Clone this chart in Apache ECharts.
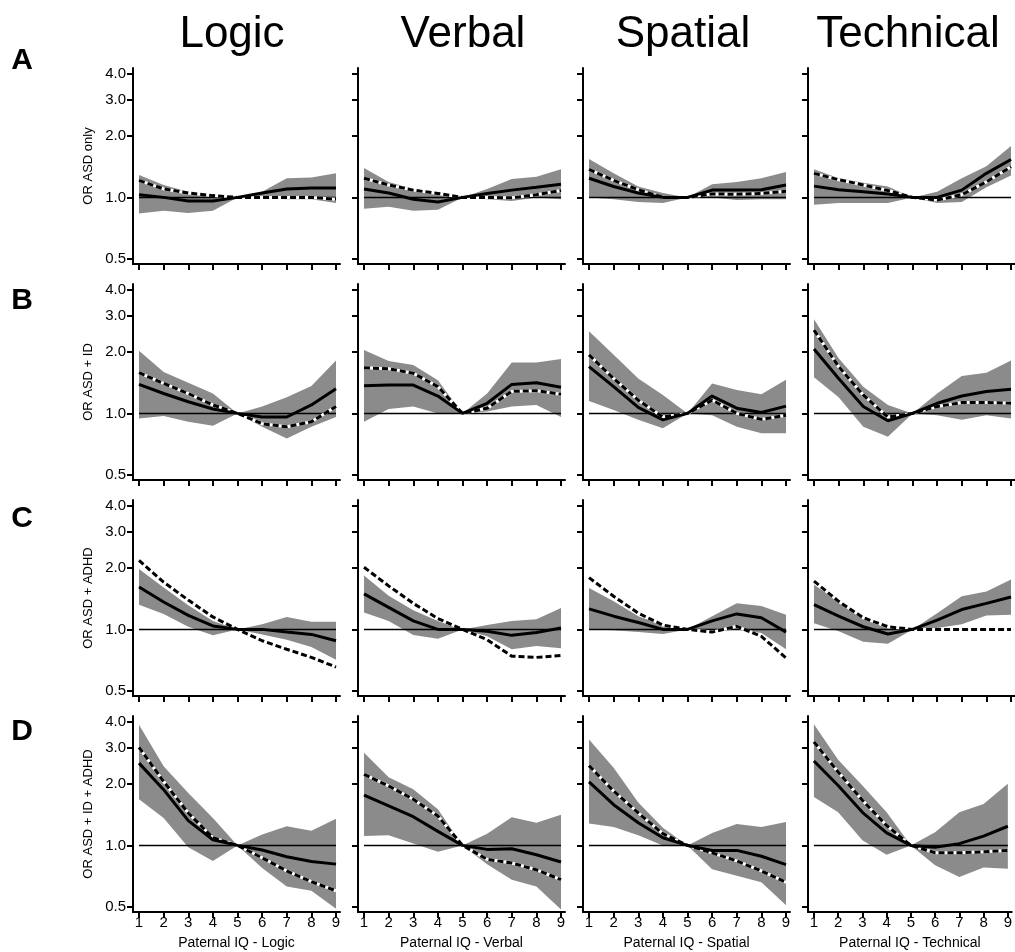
<!DOCTYPE html>
<html>
<head>
<meta charset="utf-8">
<script src="https://cdn.jsdelivr.net/npm/echarts@6/dist/echarts.min.js"></script>
<style>
html,body{margin:0;padding:0;background:#fff;}
#chart{width:1015px;height:952px;}
</style>
</head>
<body>
<div id="chart"></div>
<script>
// ---- categories / labels ----
const domains = ['Logic', 'Verbal', 'Spatial', 'Technical'];
const outcomes = ['OR ASD only', 'OR ASD + ID', 'OR ASD + ADHD', 'OR ASD + ID + ADHD'];
const rowLetters = ['A', 'B', 'C', 'D'];
const xValues = [1, 2, 3, 4, 5, 6, 7, 8, 9];
const yTickValues = [0.5, 1, 2, 3, 4];
const xAxisTitles = ['Paternal IQ - Logic', 'Paternal IQ - Verbal', 'Paternal IQ - Spatial', 'Paternal IQ - Technical'];

// ---- Row A: ASD only ----
const A_Logic_solid  = [1.03, 1.00, 0.96, 0.96, 1, 1.05, 1.10, 1.11, 1.11];
const A_Logic_dashed = [1.21, 1.10, 1.05, 1.02, 1, 1.00, 1.00, 1.00, 0.98];
const A_Logic_low    = [0.835, 0.86, 0.84, 0.86, 1, 0.99, 0.98, 0.98, 0.94];
const A_Logic_high   = [1.285, 1.15, 1.066, 1.026, 1, 1.066, 1.24, 1.25, 1.31];

const A_Verbal_solid  = [1.10, 1.05, 0.98, 0.95, 1, 1.045, 1.085, 1.12, 1.16];
const A_Verbal_dashed = [1.24, 1.15, 1.085, 1.045, 1, 1.00, 0.995, 1.03, 1.08];
const A_Verbal_low    = [0.88, 0.90, 0.86, 0.87, 1, 0.98, 0.96, 1.00, 0.98];
const A_Verbal_high   = [1.39, 1.19, 1.10, 1.05, 1, 1.10, 1.23, 1.26, 1.37];

const A_Spatial_solid  = [1.24, 1.13, 1.05, 1.00, 1, 1.085, 1.085, 1.09, 1.15];
const A_Spatial_dashed = [1.37, 1.21, 1.09, 1.00, 1, 1.04, 1.035, 1.045, 1.07];
const A_Spatial_low    = [1.00, 0.98, 0.95, 0.94, 1, 1.00, 0.97, 0.98, 0.98];
const A_Spatial_high   = [1.54, 1.31, 1.13, 1.05, 1, 1.16, 1.19, 1.24, 1.33];

const A_Technical_solid  = [1.135, 1.09, 1.066, 1.04, 1, 1.00, 1.085, 1.31, 1.53];
const A_Technical_dashed = [1.31, 1.22, 1.15, 1.08, 1, 0.97, 1.03, 1.19, 1.41];
const A_Technical_low    = [0.92, 0.94, 0.94, 0.94, 1, 0.94, 0.95, 1.12, 1.28];
const A_Technical_high   = [1.37, 1.24, 1.18, 1.13, 1, 1.066, 1.24, 1.42, 1.78];

// ---- Row B: ASD + ID ----
const B_Logic_solid  = [1.385, 1.25, 1.14, 1.05, 1, 0.96, 0.96, 1.10, 1.32];
const B_Logic_dashed = [1.58, 1.40, 1.25, 1.10, 1, 0.89, 0.86, 0.91, 1.08];
const B_Logic_low    = [0.945, 0.97, 0.91, 0.87, 1, 0.86, 0.755, 0.86, 0.96];
const B_Logic_high   = [2.02, 1.59, 1.41, 1.25, 1, 1.08, 1.20, 1.36, 1.81];

const B_Verbal_solid  = [1.365, 1.375, 1.375, 1.215, 1, 1.12, 1.385, 1.41, 1.34];
const B_Verbal_dashed = [1.67, 1.65, 1.57, 1.35, 1, 1.06, 1.28, 1.29, 1.24];
const B_Verbal_low    = [0.91, 1.05, 1.08, 1.00, 1, 1.02, 1.08, 1.10, 0.96];
const B_Verbal_high   = [2.04, 1.80, 1.72, 1.45, 1, 1.25, 1.77, 1.77, 1.84];

const B_Spatial_solid  = [1.69, 1.35, 1.07, 0.93, 1, 1.215, 1.06, 1.01, 1.085];
const B_Spatial_dashed = [1.93, 1.48, 1.16, 0.96, 1, 1.16, 1.00, 0.935, 0.98];
const B_Spatial_low    = [1.15, 1.04, 0.93, 0.845, 1, 0.98, 0.86, 0.80, 0.80];
const B_Spatial_high   = [2.52, 1.93, 1.48, 1.23, 1, 1.40, 1.30, 1.24, 1.46];

const B_Technical_solid  = [2.06, 1.48, 1.08, 0.92, 1, 1.12, 1.215, 1.28, 1.31];
const B_Technical_dashed = [2.55, 1.69, 1.23, 0.96, 1, 1.08, 1.13, 1.13, 1.12];
const B_Technical_low    = [1.50, 1.20, 0.86, 0.77, 1, 0.98, 0.93, 0.98, 0.945];
const B_Technical_high   = [2.88, 1.86, 1.35, 1.10, 1, 1.25, 1.52, 1.58, 1.81];

// ---- Row C: ASD + ADHD ----
const C_Logic_solid  = [1.61, 1.36, 1.17, 1.04, 1, 1.00, 0.97, 0.945, 0.88];
const C_Logic_dashed = [2.17, 1.70, 1.39, 1.15, 1, 0.88, 0.80, 0.73, 0.655];
const C_Logic_low    = [1.32, 1.19, 1.03, 0.935, 1, 0.945, 0.89, 0.82, 0.71];
const C_Logic_high   = [1.97, 1.60, 1.31, 1.10, 1, 1.06, 1.15, 1.09, 1.09];

const C_Verbal_solid  = [1.49, 1.28, 1.10, 1.00, 1, 0.98, 0.935, 0.965, 1.015];
const C_Verbal_dashed = [2.01, 1.63, 1.34, 1.13, 1, 0.89, 0.74, 0.73, 0.745];
const C_Verbal_low    = [1.21, 1.10, 0.94, 0.90, 1, 0.925, 0.80, 0.83, 0.81];
const C_Verbal_high   = [1.83, 1.46, 1.24, 1.10, 1, 1.05, 1.10, 1.12, 1.27];

const C_Spatial_solid  = [1.26, 1.16, 1.08, 1.00, 1, 1.10, 1.19, 1.14, 0.97];
const C_Spatial_dashed = [1.79, 1.45, 1.20, 1.05, 1, 0.97, 1.035, 0.925, 0.725];
const C_Spatial_low    = [1.00, 0.99, 0.97, 0.95, 1, 0.97, 1.00, 0.96, 0.80];
const C_Spatial_high   = [1.59, 1.37, 1.16, 1.05, 1, 1.16, 1.34, 1.30, 1.18];

const C_Technical_solid  = [1.32, 1.16, 1.03, 0.95, 1, 1.11, 1.25, 1.34, 1.44];
const C_Technical_dashed = [1.72, 1.37, 1.14, 1.03, 1, 1.00, 1.00, 1.00, 1.00];
const C_Technical_low    = [1.07, 0.98, 0.87, 0.85, 1, 1.015, 1.06, 1.17, 1.18];
const C_Technical_high   = [1.65, 1.37, 1.16, 1.03, 1, 1.20, 1.45, 1.53, 1.75];

// ---- Row D: ASD + ID + ADHD ----
const D_Logic_solid  = [2.52, 1.87, 1.32, 1.066, 1, 0.95, 0.88, 0.835, 0.81];
const D_Logic_dashed = [3.01, 2.05, 1.44, 1.09, 1, 0.87, 0.75, 0.665, 0.60];
const D_Logic_low    = [1.68, 1.36, 0.98, 0.84, 1, 0.775, 0.63, 0.60, 0.49];
const D_Logic_high   = [3.88, 2.43, 1.80, 1.36, 1, 1.13, 1.24, 1.18, 1.35];

const D_Verbal_solid  = [1.76, 1.56, 1.38, 1.17, 1, 0.956, 0.963, 0.90, 0.83];
const D_Verbal_dashed = [2.22, 1.95, 1.68, 1.39, 1, 0.855, 0.82, 0.76, 0.68];
const D_Verbal_low    = [1.11, 1.12, 1.02, 0.93, 1, 0.81, 0.68, 0.63, 0.487];
const D_Verbal_high   = [2.83, 2.15, 1.88, 1.50, 1, 1.14, 1.37, 1.29, 1.41];

const D_Spatial_solid  = [2.04, 1.58, 1.29, 1.09, 1, 0.945, 0.945, 0.885, 0.805];
const D_Spatial_dashed = [2.45, 1.84, 1.44, 1.14, 1, 0.92, 0.84, 0.75, 0.66];
const D_Spatial_low    = [1.28, 1.23, 1.12, 1.00, 1, 0.765, 0.71, 0.66, 0.51];
const D_Spatial_high   = [3.29, 2.39, 1.62, 1.22, 1, 1.15, 1.27, 1.23, 1.30];

const D_Technical_solid  = [2.58, 1.96, 1.45, 1.15, 1, 0.98, 1.02, 1.11, 1.24];
const D_Technical_dashed = [3.20, 2.28, 1.66, 1.25, 1, 0.92, 0.92, 0.93, 0.945];
const D_Technical_low    = [1.72, 1.45, 1.06, 0.90, 1, 0.80, 0.70, 0.78, 0.77];
const D_Technical_high   = [3.90, 2.62, 1.96, 1.45, 1, 1.16, 1.45, 1.59, 2.00];

const panelData = {
  A_Logic: [A_Logic_solid, A_Logic_dashed, A_Logic_low, A_Logic_high],
  A_Verbal: [A_Verbal_solid, A_Verbal_dashed, A_Verbal_low, A_Verbal_high],
  A_Spatial: [A_Spatial_solid, A_Spatial_dashed, A_Spatial_low, A_Spatial_high],
  A_Technical: [A_Technical_solid, A_Technical_dashed, A_Technical_low, A_Technical_high],
  B_Logic: [B_Logic_solid, B_Logic_dashed, B_Logic_low, B_Logic_high],
  B_Verbal: [B_Verbal_solid, B_Verbal_dashed, B_Verbal_low, B_Verbal_high],
  B_Spatial: [B_Spatial_solid, B_Spatial_dashed, B_Spatial_low, B_Spatial_high],
  B_Technical: [B_Technical_solid, B_Technical_dashed, B_Technical_low, B_Technical_high],
  C_Logic: [C_Logic_solid, C_Logic_dashed, C_Logic_low, C_Logic_high],
  C_Verbal: [C_Verbal_solid, C_Verbal_dashed, C_Verbal_low, C_Verbal_high],
  C_Spatial: [C_Spatial_solid, C_Spatial_dashed, C_Spatial_low, C_Spatial_high],
  C_Technical: [C_Technical_solid, C_Technical_dashed, C_Technical_low, C_Technical_high],
  D_Logic: [D_Logic_solid, D_Logic_dashed, D_Logic_low, D_Logic_high],
  D_Verbal: [D_Verbal_solid, D_Verbal_dashed, D_Verbal_low, D_Verbal_high],
  D_Spatial: [D_Spatial_solid, D_Spatial_dashed, D_Spatial_low, D_Spatial_high],
  D_Technical: [D_Technical_solid, D_Technical_dashed, D_Technical_low, D_Technical_high]
};

// ---- layout ----
const FONT = '"Liberation Sans", Arial, Helvetica, sans-serif';
const colLeft = [133, 358, 583, 808];
const rowTop = [68, 284, 500, 716];
const gridW = 207, gridH = 196;
const X_MIN = 0.756, X_MAX = 9.162;
const Y_MIN = 0.473, Y_MAX = 4.28;

const grids = [], xAxes = [], yAxes = [], series = [], graphics = [];

rowLetters.forEach((rl, r) => {
  domains.forEach((dom, c) => {
    const gi = r * 4 + c;
    const [solid, dashed, low, high] = panelData[rl + '_' + dom];
    grids.push({ left: colLeft[c], top: rowTop[r], width: gridW, height: gridH, containLabel: false });
    const last = r === 3;
    xAxes.push({
      type: 'value', gridIndex: gi, min: X_MIN, max: X_MAX,
      axisLine: { show: true, onZero: false, lineStyle: { color: '#000', width: 2 } },
      axisTick: { show: true, inside: false, length: 6, lineStyle: { color: '#000', width: 2 }, customValues: xValues },
      axisLabel: { show: last, customValues: xValues, margin: 3, color: '#000', fontSize: 15, fontFamily: FONT },
      splitLine: { show: false },
      name: last ? xAxisTitles[c] : '', nameLocation: 'middle', nameGap: 24,
      nameTextStyle: { color: '#000', fontSize: 14, fontFamily: FONT }
    });
    yAxes.push({
      type: 'log', gridIndex: gi, min: Y_MIN, max: Y_MAX, logBase: 2,
      axisLine: { show: true, lineStyle: { color: '#000', width: 2 } },
      axisTick: { show: true, inside: false, length: 6, lineStyle: { color: '#000', width: 2 }, customValues: yTickValues },
      axisLabel: { show: c === 0, customValues: yTickValues, margin: 7, color: '#000', fontSize: 15, fontFamily: FONT,
                   formatter: v => Number(v).toFixed(1) },
      splitLine: { show: false },
      name: c === 0 ? outcomes[r] : '', nameLocation: 'middle', nameGap: 38,
      nameTextStyle: { color: '#000', fontSize: 13, fontFamily: FONT }
    });
    // confidence band
    series.push({
      type: 'custom', xAxisIndex: gi, yAxisIndex: gi, silent: true, z: 1,
      data: xValues.map((x, i) => [x, low[i], high[i]]),
      encode: { x: 0, y: [1, 2] },
      renderItem: (params, api) => {
        if (params.dataIndex !== 0) return null;
        const pts = [];
        for (let i = 0; i < xValues.length; i++) pts.push(api.coord([xValues[i], high[i]]));
        for (let i = xValues.length - 1; i >= 0; i--) pts.push(api.coord([xValues[i], low[i]]));
        return { type: 'polygon', shape: { points: pts }, style: { fill: '#8b8b8b' } };
      }
    });
    // reference line OR = 1
    series.push({
      type: 'line', xAxisIndex: gi, yAxisIndex: gi, silent: true, z: 2, symbol: 'none',
      data: [[xValues[0], 1], [xValues[xValues.length - 1], 1]],
      lineStyle: { color: '#000', width: 1.5 }
    });
    // dashed (white underlay + black dashes)
    series.push({
      type: 'line', xAxisIndex: gi, yAxisIndex: gi, silent: true, z: 3, symbol: 'none',
      data: xValues.map((x, i) => [x, dashed[i]]),
      lineStyle: { color: '#fff', width: 3 }
    });
    series.push({
      type: 'line', xAxisIndex: gi, yAxisIndex: gi, silent: true, z: 4, symbol: 'none',
      data: xValues.map((x, i) => [x, dashed[i]]),
      lineStyle: { color: '#000', width: 3, type: [6, 3] }
    });
    // solid
    series.push({
      type: 'line', xAxisIndex: gi, yAxisIndex: gi, silent: true, z: 5, symbol: 'none',
      data: xValues.map((x, i) => [x, solid[i]]),
      lineStyle: { color: '#000', width: 3 }
    });
  });
});

// column titles
const titleX = [232, 463, 683, 908];
domains.forEach((d, c) => {
  graphics.push({ type: 'text', x: titleX[c], y: 35, silent: true,
    style: { text: d, font: '44px ' + FONT, fill: '#000', align: 'center', verticalAlign: 'middle',
             textAlign: 'center', textVerticalAlign: 'middle' } });
});
// row letters
const letterY = [61, 301, 519, 732];
rowLetters.forEach((l, r) => {
  graphics.push({ type: 'text', x: 22, y: letterY[r], silent: true,
    style: { text: l, font: 'bold 30px ' + FONT, fill: '#000', align: 'center', verticalAlign: 'middle',
             textAlign: 'center', textVerticalAlign: 'middle' } });
});

const chart = echarts.init(document.getElementById('chart'), null, { renderer: 'canvas' });
chart.setOption({
  animation: false,
  backgroundColor: '#fff',
  grid: grids, xAxis: xAxes, yAxis: yAxes, series: series,
  graphic: graphics
});
</script>
</body>
</html>
